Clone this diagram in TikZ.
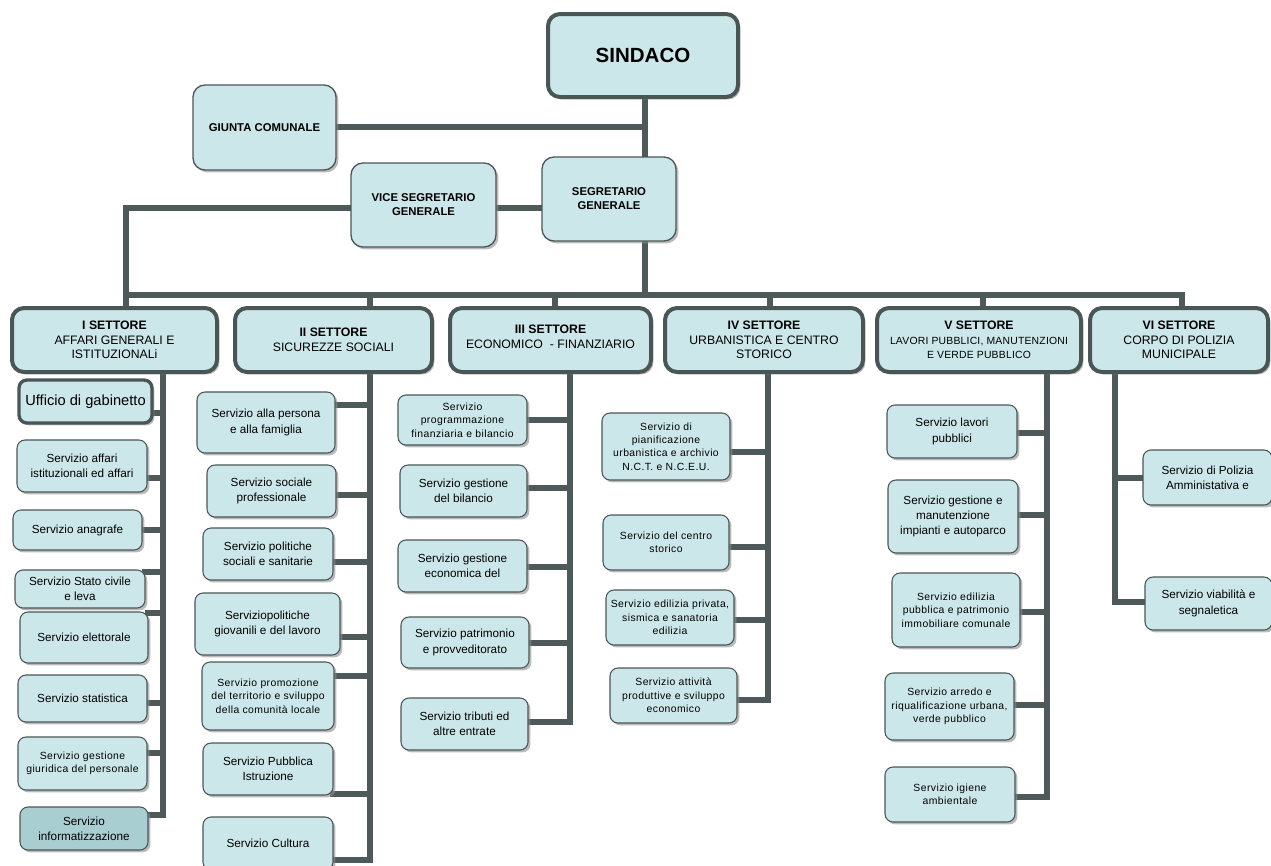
\documentclass[tikz,border=0pt]{standalone}
\usepackage{fontspec}
\setmainfont{Liberation Sans}
\newfontfamily\spacedfont[LetterSpace=4]{Liberation Sans}
\newfontfamily\lightspaced[LetterSpace=2]{Liberation Sans}
\usetikzlibrary{shadows,backgrounds}
\definecolor{boxfill}{HTML}{CCE7EA}
\definecolor{boxfilldark}{HTML}{A9CED2}
\definecolor{edge}{HTML}{4A5656}
\definecolor{wire}{HTML}{4E5A5A}
\newcommand\bx[7]{\node[#1, minimum width={(#5-#3)*0.75pt}, minimum height={(#6-#4)*0.75pt}] (#2) at ({(#3+#5)/2},{(#4+#6)/2}) {#7};}
\newcommand\brE[3]{\coordinate (#1c) at (#2,#3); \draw[conn] (#1.east |- #1c) -- (#1c);}
\newcommand\brW[3]{\coordinate (#1c) at (#2,#3); \draw[conn] (#1.west |- #1c) -- (#1c);}
\begin{document}
\begin{tikzpicture}[x=0.75pt,y=-0.75pt,
 box/.style={draw=edge, fill=boxfill, rounded corners=6pt, line width=0.8pt, align=center, inner sep=0pt, outer sep=0pt,
   drop shadow={shadow xshift=1.8pt, shadow yshift=-1.8pt, fill=black!45, opacity=0.6},
   font=\fontsize{8.8}{11.5}\selectfont},
 small/.style={font=\spacedfont\fontsize{7.8}{10}\selectfont},
 thickbox/.style={box, line width=3pt, rounded corners=9pt},
 sector/.style={thickbox, font=\fontsize{9.2}{11}\selectfont},
 topbox/.style={box, line width=1pt, rounded corners=9pt, font=\bfseries\fontsize{8.5}{10.5}\selectfont},
 conn/.style={draw=wire, line width=4pt, line cap=rect},
]
\clip (0,0) rectangle (1271,865);

% top level
\bx{thickbox, font=\bfseries\fontsize{15.4}{18}\selectfont}{sind}{548}{14}{738}{97}{SINDACO}
\bx{topbox}{giunta}{193}{85}{336}{170}{GIUNTA COMUNALE}
\bx{topbox}{vice}{351}{163}{496}{247}{VICE SEGRETARIO\\GENERALE}
\bx{topbox}{seg}{542}{157}{676}{241}{SEGRETARIO\\GENERALE}

% sectors
\bx{sector}{s1}{12}{308}{217}{372}{\textbf{I SETTORE}\\AFFARI GENERALI E\\ISTITUZIONALi}
\bx{sector}{s2}{235}{308}{432}{372}{\textbf{II SETTORE}\\SICUREZZE SOCIALI}
\bx{sector}{s3}{450}{308}{651}{372}{\textbf{III SETTORE}\\ECONOMICO\ \ - FINANZIARIO\\[-6pt]\mbox{}}
\bx{sector}{s4}{665}{308}{863}{372}{\textbf{IV SETTORE}\\URBANISTICA E CENTRO\\STORICO}
\bx{sector}{s5}{877}{308}{1081}{372}{\textbf{V SETTORE}\\{\lightspaced\fontsize{7.8}{10}\selectfont LAVORI PUBBLICI, MANUTENZIONI}\\{\lightspaced\fontsize{7.8}{10}\selectfont E VERDE PUBBLICO}}
\bx{sector}{s6}{1090}{308}{1268}{372}{\textbf{VI SETTORE}\\CORPO DI POLIZIA\\MUNICIPALE}

% column I
\bx{box, line width=2.5pt, font=\fontsize{11}{13}\selectfont}{u1}{19}{380}{152}{423}{Ufficio di gabinetto}
\bx{box}{u2}{17}{440}{147}{492}{Servizio affari\\istituzionali ed affari}
\bx{box}{u3}{13}{510}{142}{550}{Servizio anagrafe}
\bx{box}{u4}{15}{570}{145}{608}{Servizio Stato civile\\e leva}
\bx{box}{u5}{20}{612}{148}{663}{Servizio elettorale}
\bx{box}{u6}{18}{675}{147}{722}{Servizio statistica}
\bx{box,small}{u7}{18}{737}{147}{790}{Servizio gestione\\giuridica del personale}
\bx{box, fill=boxfilldark}{u8}{20}{807}{148}{850}{Servizio\\informatizzazione}

% column II
\bx{box}{v1}{197}{392}{335}{453}{Servizio alla persona\\e alla famiglia}
\bx{box}{v2}{207}{465}{336}{517}{Servizio sociale\\professionale}
\bx{box}{v3}{203}{528}{333}{580}{Servizio politiche\\sociali e sanitarie}
\bx{box}{v4}{195}{593}{340}{655}{Serviziopolitiche\\giovanili e del lavoro}
\bx{box,small}{v5}{202}{662}{334}{730}{Servizio promozione\\del territorio e sviluppo\\della comunità locale}
\bx{box}{v6}{203}{743}{333}{795}{Servizio Pubblica\\Istruzione}
\bx{box}{v7}{203}{817}{333}{870}{Servizio Cultura}

% column III
\bx{box,small}{w1}{398}{395}{527}{445}{Servizio\\programmazione\\finanziaria e bilancio}
\bx{box}{w2}{400}{465}{527}{517}{Servizio gestione\\del bilancio}
\bx{box}{w3}{398}{540}{527}{592}{Servizio gestione\\economica del}
\bx{box}{w4}{401}{617}{529}{668}{Servizio patrimonio\\e provveditorato}
\bx{box}{w5}{401}{698}{528}{750}{Servizio tributi ed\\altre entrate}

% column IV
\bx{box,small}{x1}{602}{413}{730}{480}{Servizio di\\pianificazione\\urbanistica e archivio\\N.C.T. e N.C.E.U.}
\bx{box,small}{x2}{603}{515}{729}{570}{Servizio del centro\\storico}
\bx{box,small}{x3}{606}{590}{734}{645}{Servizio edilizia privata,\\sismica e sanatoria\\edilizia}
\bx{box,small}{x4}{610}{668}{737}{723}{Servizio attività\\produttive e sviluppo\\economico}

% column V
\bx{box}{y1}{887}{405}{1017}{458}{Servizio lavori\\pubblici}
\bx{box}{y2}{888}{480}{1018}{553}{Servizio gestione e\\manutenzione\\impianti e autoparco}
\bx{box,small}{y3}{892}{573}{1020}{647}{Servizio edilizia\\pubblica e patrimonio\\immobiliare comunale}
\bx{box,small}{y4}{885}{673}{1014}{740}{Servizio arredo e\\riqualificazione urbana,\\verde pubblico}
\bx{box,small}{y5}{885}{767}{1015}{822}{Servizio igiene\\ambientale}

% column VI
\bx{box}{z1}{1143}{450}{1272}{505}{Servizio di Polizia\\Amministativa e}
\bx{box}{z2}{1145}{577}{1272}{630}{Servizio viabilità e\\segnaletica}

\begin{scope}[on background layer]
 \coordinate (tk) at (645,127);
 \coordinate (bus) at (645,295);
 \coordinate (vl) at (126,208);
 \coordinate (busL) at (126,295);
 \coordinate (busR) at (1182,295);
 \coordinate (b2) at (370,295);
 \coordinate (b3) at (555,295);
 \coordinate (b4) at (770,295);
 \coordinate (b5) at (983,295);
 \draw[conn] (sind.south -| tk) -- (seg.north -| tk);
 \draw[conn] (giunta.east |- tk) -- (tk);
 \draw[conn] (seg.south -| bus) -- (bus);
 \draw[conn] (vice.east |- vl) -- (seg.west |- vl);
 \draw[conn] (vice.west |- vl) -- (vl) -- (s1.north -| vl);
 \draw[conn] (busL) -- (busR) -- (s6.north -| busR);
 \draw[conn] (b2) -- (s2.north -| b2);
 \draw[conn] (b3) -- (s3.north -| b3);
 \draw[conn] (b4) -- (s4.north -| b4);
 \draw[conn] (b5) -- (s5.north -| b5);

 % column trunks
 \coordinate (e1) at (163,815);
 \coordinate (e2) at (370,860);
 \coordinate (e3) at (570,722);
 \coordinate (e4) at (768,700);
 \coordinate (e5) at (1047,797);
 \coordinate (e6) at (1115,602);
 \draw[conn] (s1.south -| e1) -- (e1);
 \draw[conn] (s2.south -| e2) -- (e2);
 \draw[conn] (s3.south -| e3) -- (e3);
 \draw[conn] (s4.south -| e4) -- (e4);
 \draw[conn] (s5.south -| e5) -- (e5);
 \draw[conn] (s6.south -| e6) -- (e6);

 \brE{u1}{163}{413} \brE{u2}{163}{478} \brE{u3}{163}{530} \brE{u4}{163}{572}
 \brE{u5}{163}{613} \brE{u6}{163}{703} \brE{u7}{163}{753} \brE{u8}{163}{815}
 \brE{v1}{370}{405} \brE{v2}{370}{495} \brE{v3}{370}{562} \brE{v4}{370}{637}
 \brE{v5}{370}{676} \brE{v6}{370}{794} \brE{v7}{370}{860}
 \brE{w1}{570}{420} \brE{w2}{570}{488} \brE{w3}{570}{567} \brE{w4}{570}{643} \brE{w5}{570}{722}
 \brE{x1}{768}{452} \brE{x2}{768}{547} \brE{x3}{768}{620} \brE{x4}{768}{700}
 \brE{y1}{1047}{433} \brE{y2}{1047}{515} \brE{y3}{1047}{612} \brE{y4}{1047}{705} \brE{y5}{1047}{797}
 \brW{z1}{1115}{478} \brW{z2}{1115}{602}
\end{scope}
\end{tikzpicture}
\end{document}
